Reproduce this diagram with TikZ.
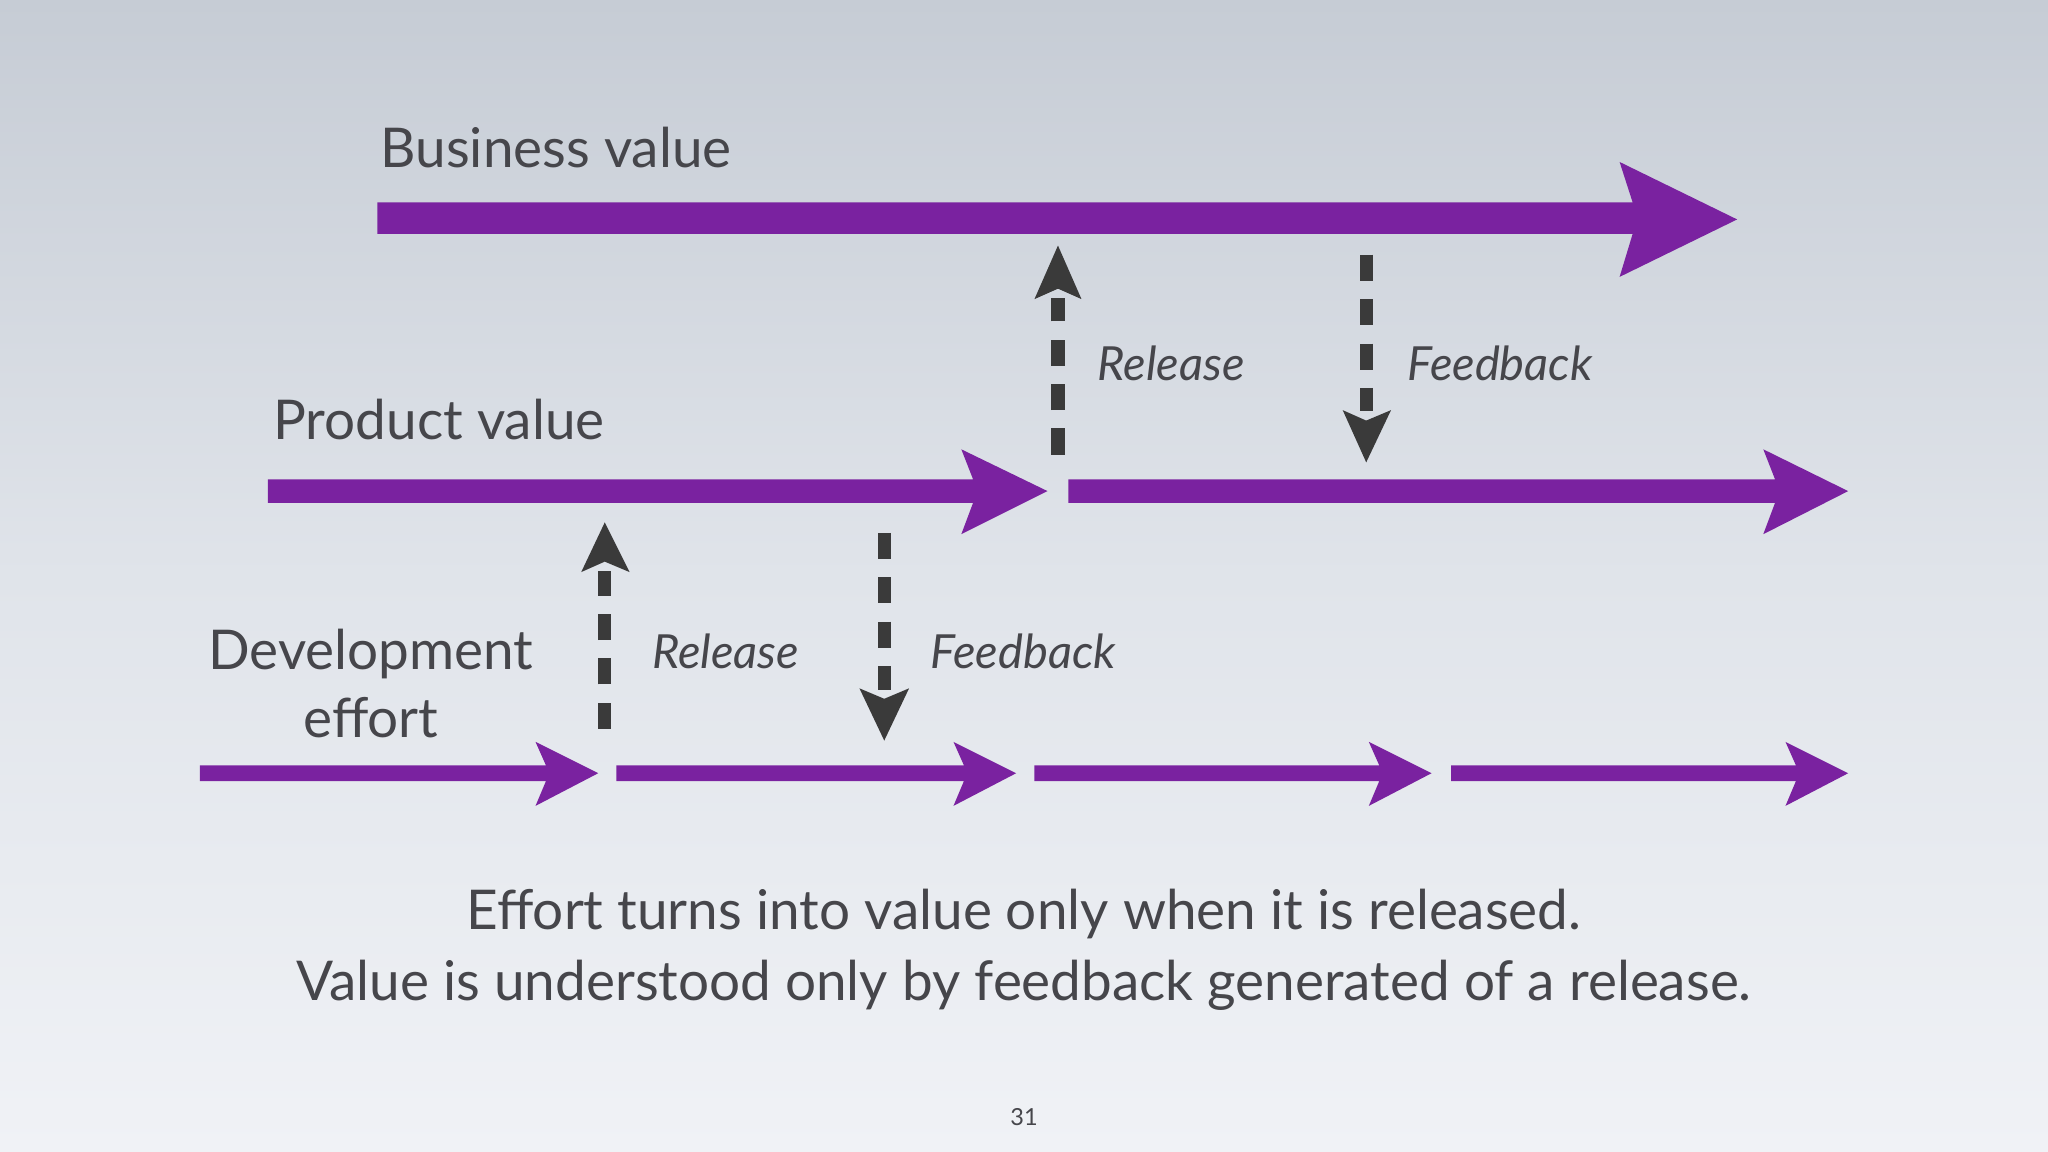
\documentclass[tikz,border=0pt]{standalone}
\usepackage{fontspec}
\setmainfont{Lato}
\begin{document}
\begin{tikzpicture}[x=0.5pt,y=-0.5pt,
  pur/.style={fill={rgb,255:red,122;green,34;blue,160}},
  dsh/.style={draw={rgb,255:red,58;green,58;blue,58},line width=5pt,dash pattern=on 10pt off 7pt},
  hd/.style={fill={rgb,255:red,58;green,58;blue,58}},
  ttl/.style={font=\fontsize{21}{26}\selectfont,text={rgb,255:red,70;green,70;blue,75},inner sep=0pt},
  lbl/.style={font=\itshape\fontsize{18}{22}\selectfont,text={rgb,255:red,70;green,70;blue,75},inner sep=0pt,anchor=west}]
\useasboundingbox (0,0) rectangle (1568,882);
\shade[top color={rgb,255:red,198;green,204;blue,213},bottom color={rgb,255:red,240;green,242;blue,246},middle color={rgb,255:red,224;green,228;blue,234}] (0,0) rectangle (1568,882);
% Business value arrow
\fill[pur] (289,155) -- (1250,155) -- (1240,124) -- (1330,168) -- (1240,212) -- (1250,179) -- (289,179) -- cycle;
% Product value arrows
\fill[pur] (205,367) -- (745,367) -- (736,344) -- (802,376) -- (736,409) -- (745,385) -- (205,385) -- cycle;
\fill[pur] (818,367) -- (1359,367) -- (1350,344) -- (1415,376) -- (1350,409) -- (1359,385) -- (818,385) -- cycle;
% Development arrows
\foreach \a/\b in {153/410,472/730,792/1048,1111/1367}{
  \fill[pur] (\a,586) -- (\b+8,586) -- (\b,568) -- (\b+48,592) -- (\b,617) -- (\b+8,598) -- (\a,598) -- cycle;}
% dashed arrows
\draw[dsh] (463,558) -- (463,437);
\fill[hd] (463,400) -- (482,438) -- (463,430) -- (445,438) -- cycle;
\draw[dsh] (677,408) -- (677,528);
\fill[hd] (677,567) -- (696,527) -- (677,535) -- (658,527) -- cycle;
\draw[dsh] (810,348) -- (810,228);
\fill[hd] (810,188) -- (828,229) -- (810,221) -- (792,229) -- cycle;
\draw[dsh] (1046,195) -- (1046,315);
\fill[hd] (1046,354) -- (1065,314) -- (1046,322) -- (1028,314) -- cycle;
% labels
\node[lbl] (r2) at (840,278) {Release};
\node[lbl] (f2) at (1077,278) {Feedback};
\node[lbl] (r1) at (499,499) {Release};
\node[lbl] (f1) at (712,499) {Feedback};
\node[ttl,anchor=west] (bv) at (291,113) {Business value};
\node[ttl,anchor=west] (pv) at (209,321) {Product value};
\node[ttl,align=center] (de) at (284,523) {Development\\effort};
\node[ttl,align=center,font=\fontsize{21}{27}\selectfont] (cap) at (784,727) {Effort turns into value only when it is released.\\Value is understood only by feedback generated of a release.};
\node[ttl,font=\fontsize{9}{11}\selectfont] (pg) at (784,855) {31};
\end{tikzpicture}
\end{document}
